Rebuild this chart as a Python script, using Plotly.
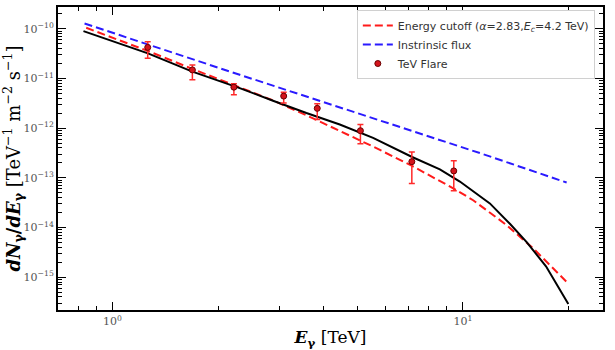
import plotly.graph_objects as go

# TeV flare data points
flare_E = [1.26, 1.69, 2.22, 3.08, 3.84, 5.10, 7.15, 9.42]
flare_F = [4.23e-11, 1.49e-11, 6.70e-12, 4.43e-12, 2.51e-12, 8.9e-13, 2.12e-13, 1.38e-13]
flare_F_hi = [5.5e-11, 1.88e-11, 7.83e-12, 5.32e-12, 3.12e-12, 1.19e-12, 3.3e-13, 2.2e-13]
flare_F_lo = [2.55e-11, 9.4e-12, 4.72e-12, 3.21e-12, 1.49e-12, 4.85e-13, 7.7e-14, 5.5e-14]

# Black solid model curve
model_E = [0.826, 1.262, 1.69, 2.307, 2.871, 3.576, 4.453, 5.542, 7.163, 8.597, 9.804,
           11.94, 13.62, 15.21, 17.27, 20.0]
model_F = [9.0e-11, 3.21e-11, 1.38e-11, 6.40e-12, 3.58e-12, 2.02e-12, 1.19e-12, 6.40e-13,
           2.63e-13, 1.48e-13, 8.43e-14, 3.06e-14, 1.19e-14, 5.08e-15, 1.66e-15, 2.88e-16]

# Energy cutoff curve (red dashed)
cut_E = [0.841, 1.262, 1.69, 2.307, 2.871, 3.576, 4.453, 5.542, 7.163, 9.44, 10.70,
         13.33, 15.88, 19.78]
cut_F = [1.05e-10, 3.58e-11, 1.56e-11, 6.76e-12, 3.63e-12, 1.82e-12, 8.91e-13, 4.27e-13,
         1.74e-13, 6.03e-14, 3.55e-14, 1.12e-14, 3.80e-15, 8.05e-16]

# Intrinsic flux (blue dashed)
intr_E = [0.832, 2.307, 11.18, 19.78]
intr_F = [1.28e-10, 1.19e-11, 3.16e-13, 8.05e-14]

x_tickvals = [1, 10]
x_ticktext = ["10<sup>0</sup>", "10<sup>1</sup>"]
y_tickvals = [1e-10, 1e-11, 1e-12, 1e-13, 1e-14, 1e-15]
y_ticktext = ["10<sup>\u221210</sup>", "10<sup>\u221211</sup>", "10<sup>\u221212</sup>",
              "10<sup>\u221213</sup>", "10<sup>\u221214</sup>", "10<sup>\u221215</sup>"]

err_plus = [h - f for h, f in zip(flare_F_hi, flare_F)]
err_minus = [f - l for f, l in zip(flare_F, flare_F_lo)]

fig = go.Figure()
fig.add_trace(go.Scatter(x=cut_E, y=cut_F, mode="lines",
                         line=dict(color="#ff1a1a", width=2, dash="8px,4px"),
                         name="Energy cutoff (<i>\u03b1</i>=2.83,<i>E<sub>c</sub></i>=4.2 TeV)",
                         legendrank=1))
fig.add_trace(go.Scatter(x=intr_E, y=intr_F, mode="lines",
                         line=dict(color="#2a1aff", width=2, dash="8px,4px"),
                         name="Instrinsic flux", legendrank=2))
fig.add_trace(go.Scatter(x=model_E, y=model_F, mode="lines",
                         line=dict(color="black", width=2), showlegend=False))
fig.add_trace(go.Scatter(x=flare_E, y=flare_F, mode="markers",
                         marker=dict(color="#d4141c", size=6, line=dict(color="#6a0000", width=1)),
                         error_y=dict(type="data", symmetric=False, array=err_plus,
                                      arrayminus=err_minus, color="#ff2a2a", thickness=1.5, width=3),
                         name="TeV Flare", legendrank=3))

minor_x = [v * 10 ** d for d in range(-1, 2) for v in range(2, 10)]
minor_y = [v * 10.0 ** d for d in range(-16, -9) for v in range(2, 10)]

axis_common = dict(showline=True, linecolor="black", linewidth=2, mirror="allticks",
                   ticks="inside", ticklen=8, tickwidth=1.2, tickcolor="black",
                   showgrid=False, zeroline=False,
                   tickfont=dict(family="DejaVu Serif", size=11, color="#555"))

fig.update_xaxes(type="log", range=[-0.1557, 1.4], tickmode="array",
                 tickvals=x_tickvals, ticktext=x_ticktext,
                 minor=dict(ticks="inside", ticklen=4, tickcolor="black", tickwidth=1,
                            tickmode="array", tickvals=minor_x),
                 title=dict(text="<b><i>E</i><sub>\u03b3</sub></b> [TeV]",
                            font=dict(family="DejaVu Serif", size=17, color="black"), standoff=4),
                 **axis_common)
fig.update_yaxes(type="log", range=[-15.66, -9.56], tickmode="array",
                 tickvals=y_tickvals, ticktext=y_ticktext,
                 minor=dict(ticks="inside", ticklen=4, tickcolor="black", tickwidth=1,
                            tickmode="array", tickvals=minor_y),
                 title=dict(text="<b><i>dN</i><sub>\u03b3</sub>/<i>dE</i><sub>\u03b3</sub></b> [TeV<sup>\u22121</sup> m<sup>\u22122</sup> s<sup>\u22121</sup>]",
                            font=dict(family="DejaVu Serif", size=18, color="black"), standoff=2),
                 **axis_common)

fig.update_layout(width=615, height=350, margin=dict(l=58, r=12, t=5, b=40),
                  paper_bgcolor="white", plot_bgcolor="white",
                  legend=dict(x=0.985, y=0.99, xanchor="right", yanchor="top",
                              bgcolor="white", bordercolor="#d0d0d0", borderwidth=1,
                              font=dict(family="DejaVu Sans", size=11, color="#333"),
                              itemwidth=30, tracegroupgap=0))

fig.write_html("out.html", config={"displayModeBar": False},
               post_script="document.body.style.margin='0';")
